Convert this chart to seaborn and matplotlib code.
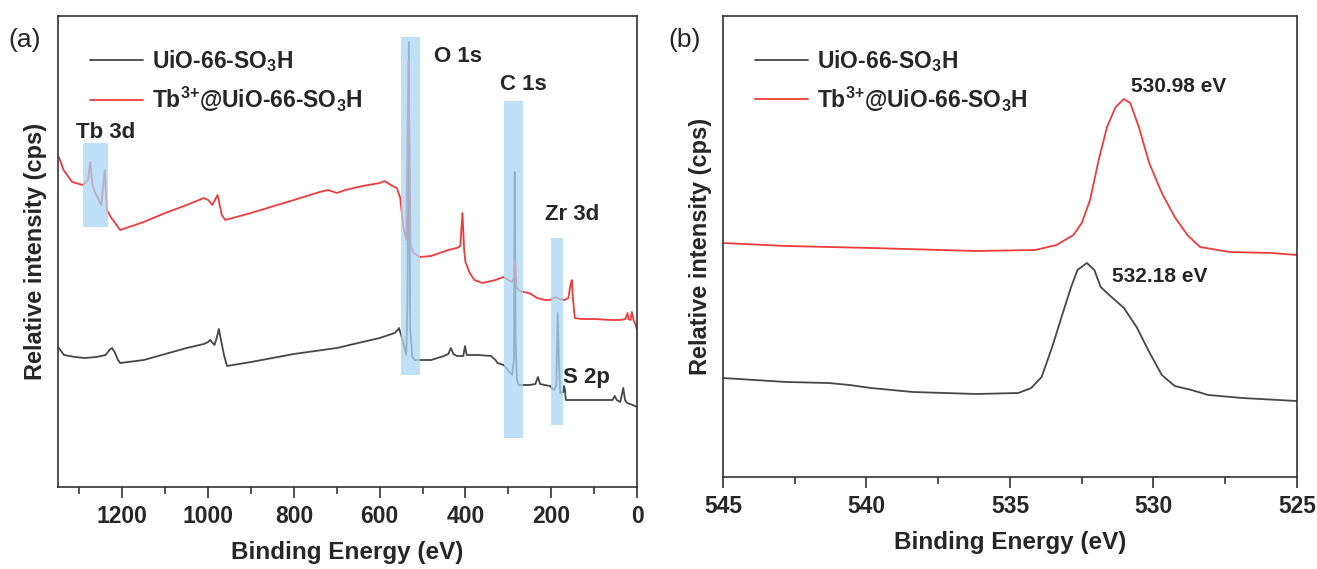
import numpy as np
import pandas as pd
import matplotlib.pyplot as plt
import seaborn as sns

# ---------------- data (arbitrary intensity units) ----------------
# (a) survey spectra
survey_be_red = [1348, 1337, 1317, 1292, 1280, 1275, 1270, 1264, 1249, 1241, 1236, 1232, 1227, 1222,
                 1205, 1150, 1100, 1050, 1010, 1000, 990, 978, 968, 960, 900, 800, 740, 720, 700, 680,
                 640, 600, 589, 570, 560, 552, 545, 538, 533, 528, 521, 506, 480, 440, 420, 412, 407,
                 403, 400, 390, 379, 360, 330, 311, 300, 292, 286, 284, 281, 276, 265, 252, 240, 233,
                 215, 203, 195, 189, 180, 169, 160, 155, 152, 149, 145, 130, 100, 60, 40, 27, 22, 20,
                 15, 12, 8, 3, 0]
survey_i_red = [330, 317, 305, 302, 307, 325, 302, 295, 282, 317, 277, 274, 270, 267,
                257, 265, 274, 282, 289, 287, 282, 292, 272, 267, 274, 287, 295, 297, 294, 297,
                301, 304, 306, 301, 299, 289, 260, 247, 427, 242, 234, 230, 231, 237, 239, 241, 274,
                237, 225, 214, 207, 204, 207, 210, 207, 205, 210, 227, 200, 197, 195, 194, 191, 189,
                187, 187, 189, 190, 188, 187, 189, 202, 207, 187, 169, 168, 168, 167, 167, 168, 174, 168,
                167, 175, 167, 162, 157]

survey_be_blk = [1348, 1336, 1310, 1288, 1260, 1239, 1230, 1224, 1218, 1210, 1205, 1150, 1100, 1050,
                 1010, 1000, 995, 985, 980, 975, 970, 963, 956, 900, 800, 700, 600, 565, 558, 555,
                 550, 545, 538, 535, 532, 529, 524, 518, 506, 480, 450, 440, 434, 428, 420, 405, 401,
                 397, 370, 340, 330, 325, 311, 301, 291, 287, 285, 283, 280, 276, 250, 237, 231, 226,
                 215, 203, 193, 188, 185, 182, 179, 172, 170, 168, 166, 120, 70, 57, 52, 47, 39, 32,
                 28, 23, 10, 0]
survey_i_blk = [139, 132, 130, 129, 130, 132, 137, 139, 135, 127, 124, 127, 133, 139,
                143, 145, 147, 142, 149, 158, 147, 132, 121, 125, 133, 139, 149, 154, 157, 159,
                152, 144, 132, 187, 445, 160, 130, 127, 127, 127, 131, 133, 139, 133, 131, 131, 141,
                132, 132, 131, 127, 124, 122, 117, 112, 127, 315, 147, 107, 102, 102, 103, 110, 103,
                102, 101, 97, 102, 174, 127, 94, 95, 101, 97, 87, 87, 87, 87, 91, 87, 85, 99,
                87, 84, 82, 80]

# highlighted regions: BE high, BE low, intensity low, intensity high
band_names = ["Tb 3d", "O 1s", "C 1s", "Zr 3d"]
band_be_hi = [1291, 550, 309, 200]
band_be_lo = [1234, 506, 265, 172]
band_i_lo = [260, 112, 49, 62]
band_i_hi = [344, 450, 386, 249]

peak_labels = ["Tb 3d", "O 1s", "C 1s", "Zr 3d", "S 2p"]
peak_label_be = [1238, 418, 265, 152, 118]
peak_label_i = [355, 430, 402, 272, 110]

# (b) O 1s high resolution
o1s_be_red = [545.00, 542.79, 539.85, 536.18, 534.12, 533.38, 532.79, 532.50, 532.21, 531.91,
              531.62, 531.32, 531.03, 530.81, 530.51, 530.15, 529.71, 529.26, 528.82, 528.38,
              527.35, 525.88, 525.00]
o1s_i_red = [234, 231, 229, 226, 227, 232, 242, 254, 277, 317,
             350, 370, 378, 374, 350, 314, 284, 260, 242, 230,
             225, 224, 222]
o1s_be_blk = [545.00, 542.79, 541.32, 540.59, 539.85, 538.38, 536.18, 534.71, 534.26, 533.90,
              533.53, 533.16, 532.87, 532.65, 532.32, 532.06, 531.84, 531.62, 531.03, 530.59,
              530.15, 529.71, 529.26, 528.68, 528.09, 526.91, 525.00]
o1s_i_blk = [99, 95, 94, 92, 89, 85, 83, 84, 89, 100,
             130, 164, 190, 207, 214, 207, 190, 184, 169, 150,
             125, 102, 91, 87, 82, 79, 76]
o1s_labels = ["530.98 eV", "532.18 eV"]
o1s_label_be = [529.12, 529.78]
o1s_label_i = [390, 201]

name_blk = r"UiO-66-SO$_{3}$H"
name_red = r"Tb$^{3{+}}$@UiO-66-SO$_{3}$H"

# ---------------- style ----------------
sns.set_theme(style="white")
plt.rcParams["font.family"] = ["Liberation Sans", "DejaVu Sans"]
plt.rcParams["font.weight"] = "bold"
plt.rcParams["mathtext.fontset"] = "custom"
plt.rcParams["mathtext.rm"] = "Liberation Sans:bold"
plt.rcParams["mathtext.it"] = "Liberation Sans:bold"
plt.rcParams["mathtext.bf"] = "Liberation Sans:bold"
plt.rcParams["mathtext.default"] = "rm"

c_blk = "#474747"
c_red = "#ee3b3b"
c_band = "#aad6f3"
palette = {name_blk: c_blk, name_red: c_red}

df_a = pd.concat([
    pd.DataFrame({"be": survey_be_blk, "inten": survey_i_blk, "sample": name_blk}),
    pd.DataFrame({"be": survey_be_red, "inten": survey_i_red, "sample": name_red}),
])
df_b = pd.concat([
    pd.DataFrame({"be": o1s_be_blk, "inten": o1s_i_blk, "sample": name_blk}),
    pd.DataFrame({"be": o1s_be_red, "inten": o1s_i_red, "sample": name_red}),
])

W, H = 1317, 569
fig = plt.figure(figsize=(W / 100, H / 100), dpi=100)
ax1 = fig.add_axes([58 / W, 1 - 487 / H, (637 - 58) / W, (487 - 16) / H])
ax2 = fig.add_axes([723 / W, 1 - 477 / H, (1297 - 723) / W, (477 - 16) / H])

for ax, df in ((ax1, df_a), (ax2, df_b)):
    sns.lineplot(data=df, x="be", y="inten", hue="sample", palette=palette,
                 estimator=None, sort=True, linewidth=1.3, ax=ax)
    ax.set_yticks([])
    ax.set_xlabel("Binding Energy (eV)", fontsize=17.5, fontweight="bold", labelpad=9)
    ax.set_ylabel("Relative intensity (cps)", fontsize=17, fontweight="bold", labelpad=8)
    for s in ax.spines.values():
        s.set_color("#333333")
        s.set_linewidth(1.2)
    ax.tick_params(axis="x", which="major", direction="out", length=8, width=1.2,
                   color="#333333", labelsize=16.5, pad=5, bottom=True)
    ax.tick_params(axis="x", which="minor", direction="out", length=5, width=1.2,
                   color="#333333", bottom=True)
    ax.legend(loc="upper left", bbox_to_anchor=(0.02, 0.975), frameon=False, fontsize=16.5,
              handlelength=2.3, handletextpad=0.4, labelspacing=0.45)

# panel (a)
ax1.set_xlim(1350, 0)
ax1.set_ylim(0, 471)
ax1.set_xticks([1200, 1000, 800, 600, 400, 200, 0])
ax1.set_xticks([1300, 1100, 900, 700, 500, 300, 100], minor=True)
for hi, lo, ylo, yhi in zip(band_be_hi, band_be_lo, band_i_lo, band_i_hi):
    ax1.fill_between([lo, hi], ylo, yhi, color=c_band, alpha=0.75, linewidth=0, zorder=5)
for lab, x, y in zip(peak_labels, peak_label_be, peak_label_i):
    ax1.text(x, y, lab, fontsize=16, fontweight="bold", ha="center", va="center", zorder=6)

# panel (b)
ax2.set_xlim(545, 525)
ax2.set_ylim(0, 461)
ax2.set_xticks([545, 540, 535, 530, 525])
ax2.set_xticks([542.5, 537.5, 532.5, 527.5], minor=True)
for lab, x, y in zip(o1s_labels, o1s_label_be, o1s_label_i):
    ax2.text(x, y, lab, fontsize=15, fontweight="bold", ha="center", va="center")

for t in ax1.get_xticklabels() + ax2.get_xticklabels():
    t.set_fontweight("bold")

fig.text(8 / W, 1 - 40 / H, "(a)", fontsize=19, fontweight="normal", va="center")
fig.text(668 / W, 1 - 40 / H, "(b)", fontsize=19, fontweight="normal", va="center")

fig.savefig("out.png", dpi=100)
